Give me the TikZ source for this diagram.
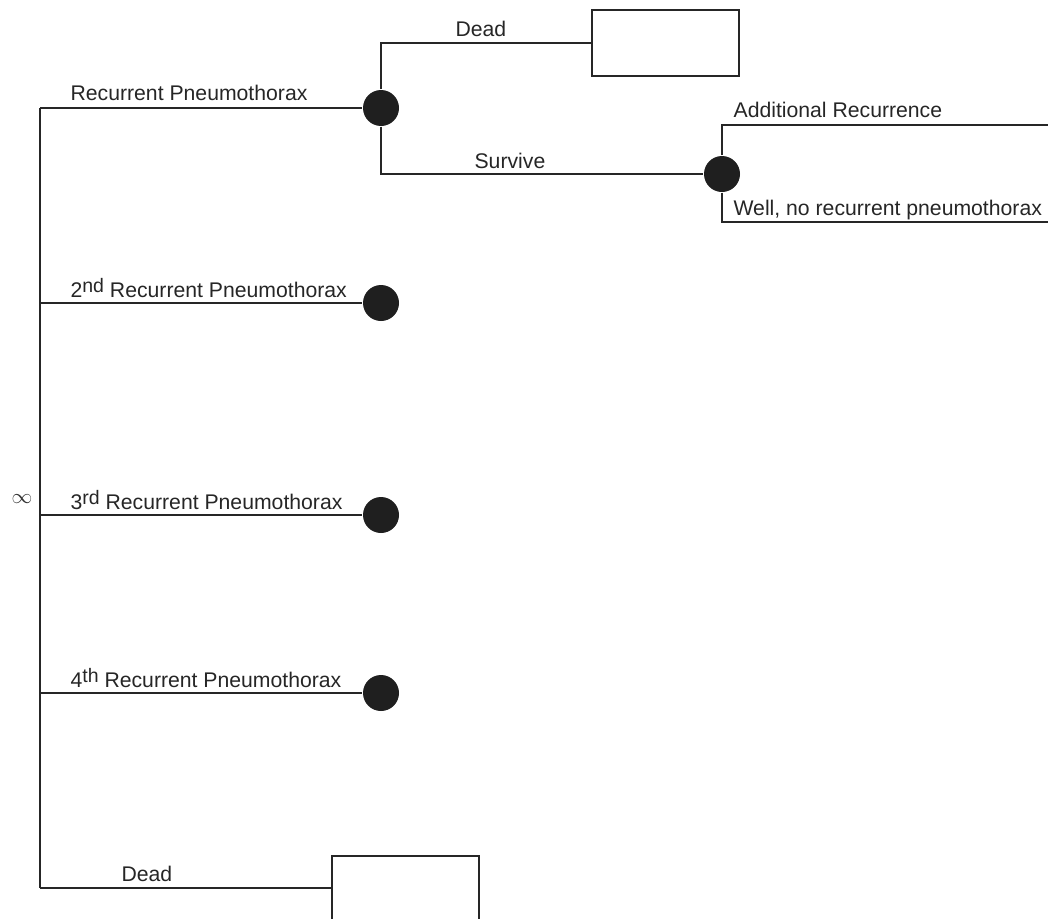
\documentclass[tikz,border=0pt]{standalone}
\usepackage{fontspec}
\setmainfont{Liberation Sans}
\newcommand{\supr}[1]{\raisebox{4.5pt}{\fontsize{19.5}{22}\selectfont #1}}
\begin{document}
\begin{tikzpicture}[x=1pt,y=-1pt,
  line width=1.2pt,
  chance/.style={circle,fill=black!88,draw=none,minimum size=36pt,inner sep=0pt},
  term/.style={rectangle,draw=black!85,minimum width=147pt,minimum height=66pt,inner sep=0pt},
  lbl/.style={anchor=base west,inner sep=0pt,font=\fontsize{21.2}{25}\selectfont,text=black!85},
  conn/.style={draw=black!85}]
\useasboundingbox (0,0) rectangle (1048,918);
% nodes
\node[chance] (c1) at (381,108) {};
\node[chance] (c2) at (722,174) {};
\node[chance] (c3) at (381,303) {};
\node[chance] (c4) at (381,515) {};
\node[chance] (c5) at (381,693) {};
\node[term] (t1) at (665.5,43) {};
\node[term,minimum height=64pt] (t2) at (405.5,888) {};
% coordinates
\coordinate (r1) at (40,108);
\coordinate (r2) at (40,303);
\coordinate (r3) at (40,515);
\coordinate (r4) at (40,693);
\coordinate (r5) at (40,888);
\coordinate (c1t) at (381,43);
\coordinate (c1b) at (381,174);
\coordinate (c2t) at (722,125);
\coordinate (c2b) at (722,222);
\coordinate (e1) at (1048,125);
\coordinate (e2) at (1048,222);
% connectors
\draw[conn] (r1) -- (r5);
\draw[conn] (r1) -- (c1);
\draw[conn] (r2) -- (c3);
\draw[conn] (r3) -- (c4);
\draw[conn] (r4) -- (c5);
\draw[conn] (r5) -- (t2.west);
\draw[conn] (c1.north) -- (c1t) -- (t1.west);
\draw[conn] (c1.south) -- (c1b) -- (c2);
\draw[conn] (c2.north) -- (c2t) -- (e1);
\draw[conn] (c2.south) -- (c2b) -- (e2);
% labels
\node[lbl] (l1) at (70,100) {Recurrent Pneumothorax};
\node[lbl] (l2) at (70,297) {2\supr{nd} Recurrent Pneumothorax};
\node[lbl] (l3) at (70,509) {3\supr{rd} Recurrent Pneumothorax};
\node[lbl] (l4) at (70,687) {4\supr{th} Recurrent Pneumothorax};
\node[lbl] (l5) at (121,881) {Dead};
\node[lbl] (l6) at (455,36) {Dead};
\node[lbl] (l7) at (474,168) {Survive};
\node[lbl] (l8) at (733,117) {Additional Recurrence};
\node[lbl] (l9) at (733,215) {Well, no recurrent pneumothorax};
\node[inner sep=0pt,font=\fontsize{21}{24}\selectfont,text=black!80] (inf) at (22,499) {$\infty$};
\end{tikzpicture}
\end{document}
